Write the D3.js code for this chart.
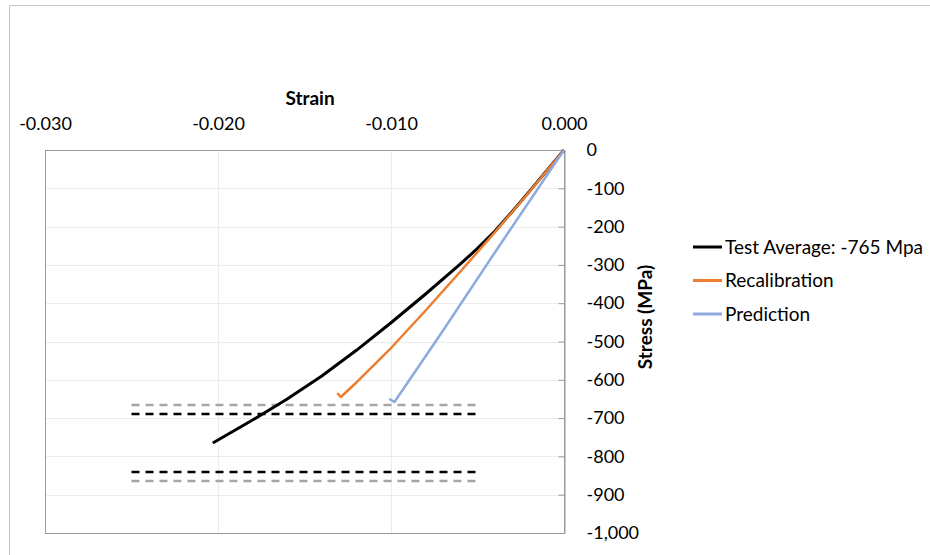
<!DOCTYPE html>
<html>
<head>
<meta charset="utf-8">
<script src="https://cdn.jsdelivr.net/npm/d3@7"></script>
<style>
  body { margin: 0; background: #fff; }
  text { font-family: Lato, "Open Sans", sans-serif; fill: #000; }
</style>
</head>
<body>
<div id="vis"></div>
<script>
// series: [strain, stress MPa]
const testAverage = [
  [0, 0], [-0.002, -108], [-0.003, -161], [-0.004, -212], [-0.005, -257],
  [-0.006, -298], [-0.008, -376], [-0.010, -451], [-0.012, -523],
  [-0.014, -590], [-0.016, -650], [-0.018, -705], [-0.0203, -765]
];
const recalibration = [
  [0, 0], [-0.002, -109], [-0.004, -215], [-0.006, -318], [-0.008, -419],
  [-0.010, -517], [-0.012, -607], [-0.0129, -645], [-0.0131, -635]
];
const prediction = [
  [0, 0], [-0.0039, -261], [-0.0070, -472], [-0.0098, -658], [-0.0101, -650]
];

// +-10% (black) and +-13% (grey) bands around the test average
const limitStrain = [-0.025, -0.005];
const blackLimits = [-689, -841];
const greyLimits = [-666, -864];

const xTicks = [-0.03, -0.02, -0.01, 0];
const yTicks = [0, -100, -200, -300, -400, -500, -600, -700, -800, -900, -1000];

const series = [
  { name: 'Test Average: -765 Mpa', values: testAverage, colour: '#000000', w: 3 },
  { name: 'Recalibration', values: recalibration, colour: '#ed7d31', w: 2.5 },
  { name: 'Prediction', values: prediction, colour: '#8faadc', w: 2.5 }
];

const W = 930, H = 555;
const plot = { left: 45, right: 564, top: 150, bottom: 533 };

const x = d3.scaleLinear().domain([-0.03, 0]).range([plot.left, plot.right]);
const y = d3.scaleLinear().domain([-1000, 0]).range([plot.bottom, plot.top]);

// plain hyphen instead of the unicode minus d3 uses
const hyphen = f => d => f(d).replace('\u2212', '-');

const $svg = d3.select('#vis').append('svg')
  .attr('width', W)
  .attr('height', H);

// outer chart border (runs off to the right / bottom)
$svg.append('path')
  .attr('d', `M9.5,${H} V5.5 H${W}`)
  .attr('fill', 'none')
  .attr('stroke', '#c6c6c6');

// gridlines
$svg.append('g')
  .selectAll('line')
  .data(yTicks.slice(1, -1))
  .join('line')
  .attr('x1', plot.left).attr('x2', plot.right)
  .attr('y1', d => Math.round(y(d)) + 0.5).attr('y2', d => Math.round(y(d)) + 0.5)
  .attr('stroke', '#ececec');

$svg.append('g')
  .selectAll('line')
  .data(xTicks.slice(1, -1))
  .join('line')
  .attr('x1', d => Math.round(x(d)) + 0.5).attr('x2', d => Math.round(x(d)) + 0.5)
  .attr('y1', plot.top).attr('y2', plot.bottom)
  .attr('stroke', '#ececec');

// plot frame
$svg.append('rect')
  .attr('x', plot.left + 0.5).attr('y', plot.top + 0.5)
  .attr('width', plot.right - plot.left).attr('height', plot.bottom - plot.top)
  .attr('fill', 'none')
  .attr('stroke', '#999');

// x axis on top
const xAxis = d3.axisTop(x)
  .tickValues(xTicks)
  .tickSize(0)
  .tickPadding(20)
  .tickFormat(hyphen(d3.format('.3f')));

$svg.append('g')
  .attr('transform', `translate(0, ${plot.top})`)
  .call(xAxis)
  .call(g => g.select('.domain').remove())
  .selectAll('text')
  .attr('font-size', 18)
  .attr('font-family', 'Lato, sans-serif')
  .attr('fill', '#000');

// y axis on the right, ticks inside
const yAxis = d3.axisRight(y)
  .tickValues(yTicks)
  .tickSize(-6)
  .tickPadding(22)
  .tickFormat(hyphen(d3.format(',')));

$svg.append('g')
  .attr('transform', `translate(${plot.right + 0.5}, 0)`)
  .call(yAxis)
  .call(g => g.select('.domain').attr('stroke', '#999'))
  .call(g => g.selectAll('.tick line').attr('stroke', '#999'))
  .selectAll('text')
  .attr('font-size', 18)
  .attr('font-family', 'Lato, sans-serif')
  .attr('fill', '#000');

// axis titles
$svg.append('text')
  .attr('x', 310).attr('y', 105)
  .attr('text-anchor', 'middle')
  .attr('font-weight', 700)
  .attr('font-size', 19)
  .text('Strain');

$svg.append('text')
  .attr('transform', 'translate(652, 317) rotate(-90)')
  .attr('text-anchor', 'middle')
  .attr('font-weight', 700)
  .attr('font-size', 19)
  .text('Stress (MPa)');

// limit bands
const limits = [
  ...greyLimits.map(v => ({ v, colour: '#a6a6a6' })),
  ...blackLimits.map(v => ({ v, colour: '#000' }))
];

$svg.append('g')
  .selectAll('line')
  .data(limits)
  .join('line')
  .attr('x1', x(limitStrain[0])).attr('x2', x(limitStrain[1]))
  .attr('y1', d => y(d.v)).attr('y2', d => y(d.v))
  .attr('stroke', d => d.colour)
  .attr('stroke-width', 2.5)
  .attr('stroke-dasharray', '8,6');

// series
const line = d3.line()
  .x(d => x(d[0]))
  .y(d => y(d[1]));

$svg.append('g')
  .selectAll('path')
  .data(series)
  .join('path')
  .attr('d', d => line(d.values))
  .attr('fill', 'none')
  .attr('stroke', d => d.colour)
  .attr('stroke-width', d => d.w)
  .attr('stroke-linejoin', 'round');

// legend
const $legend = $svg.append('g')
  .selectAll('g')
  .data(series)
  .join('g')
  .attr('transform', (d, i) => `translate(693, ${247 + i * 33.5})`);

$legend.append('line')
  .attr('x1', 0).attr('x2', 29)
  .attr('stroke', d => d.colour)
  .attr('stroke-width', 3);

$legend.append('text')
  .attr('x', 32)
  .attr('dy', '0.35em')
  .attr('font-size', 19)
  .text(d => d.name);
</script>
</body>
</html>
